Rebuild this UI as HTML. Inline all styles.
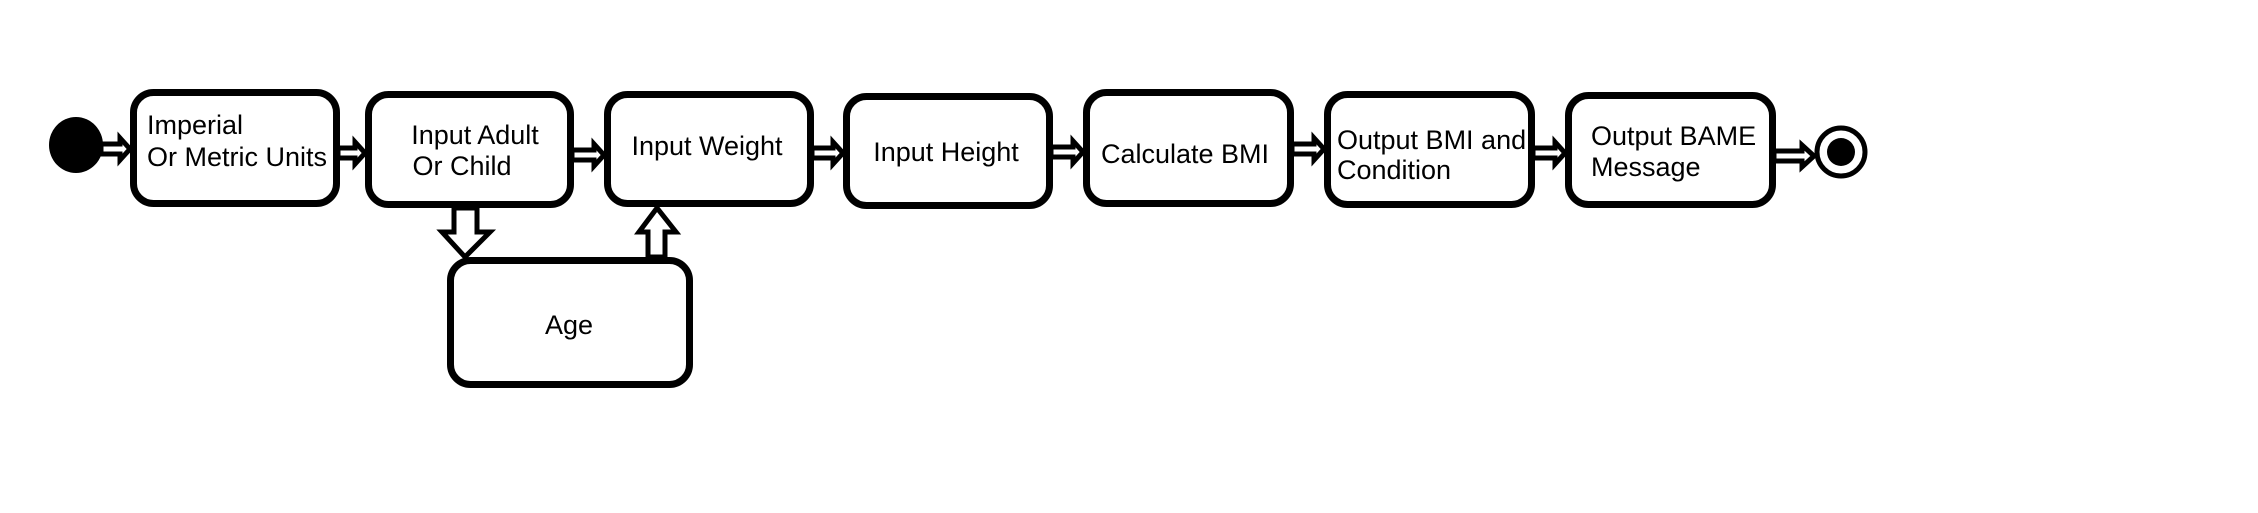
<!DOCTYPE html>
<html><head><style>
html,body{margin:0;padding:0;background:#fff;width:2258px;height:513px;overflow:hidden}
svg text{font-family:"Liberation Sans",sans-serif;font-size:27px;fill:#000}
</style></head><body>
<svg width="2258" height="513" viewBox="0 0 2258 513" xmlns="http://www.w3.org/2000/svg">
<g fill="#fff" stroke="#000" stroke-width="7">
<rect x="133.5" y="92.5" width="203" height="111" rx="20"/>
<rect x="368.5" y="94.5" width="202" height="110" rx="20"/>
<rect x="607.5" y="94.5" width="203" height="109" rx="20"/>
<rect x="846.5" y="96.5" width="203" height="109" rx="20"/>
<rect x="1086.5" y="92.5" width="204" height="111" rx="20"/>
<rect x="1327.5" y="94.5" width="204" height="110" rx="20"/>
<rect x="1568.5" y="95.5" width="204" height="109" rx="20"/>
<rect x="450.5" y="260.5" width="239" height="124" rx="20"/>
</g>
<ellipse cx="76" cy="145" rx="27" ry="28" fill="#000"/>
<circle cx="1841" cy="152" r="24" fill="#fff" stroke="#000" stroke-width="5"/>
<circle cx="1841" cy="152" r="14" fill="#000"/>
<g fill="#fff" stroke="#000" stroke-width="5" stroke-linejoin="miter">
<polygon points="101,144 120,144 120,138 130,149 120,160 120,154 101,154"/>
<polygon points="338,148 355,148 355,142 365,153 355,164 355,158 338,158"/>
<polygon points="572,150 594,150 594,144 604,155 594,166 594,160 572,160"/>
<polygon points="812,148 833,148 833,142 843,153 833,164 833,158 812,158"/>
<polygon points="1051,147 1073,147 1073,141 1083,152 1073,163 1073,157 1051,157"/>
<polygon points="1292,144 1314,144 1314,138 1324,149 1314,160 1314,154 1292,154"/>
<polygon points="1533,148 1555,148 1555,142 1565,153 1555,164 1555,158 1533,158"/>
<polygon points="1774,151 1802,151 1802,145 1814,156 1802,167 1802,161 1774,161"/>
<polygon points="454,208 477,208 477,232 490,232 465,257 442,232 454,232"/>
<polygon points="648,257 665,257 665,232 676,232 657,208 639,232 648,232"/>
</g>
<text x="147" y="134">Imperial</text>
<text x="147" y="166">Or Metric Units</text>
<text x="475" y="144" text-anchor="middle">Input Adult</text>
<text x="462" y="175" text-anchor="middle">Or Child</text>
<text x="707" y="155" text-anchor="middle">Input Weight</text>
<text x="946" y="161" text-anchor="middle">Input Height</text>
<text x="1185" y="163" text-anchor="middle">Calculate BMI</text>
<text x="1337" y="149">Output BMI and</text>
<text x="1337" y="179">Condition</text>
<text x="1591" y="145">Output BAME</text>
<text x="1591" y="176">Message</text>
<text x="569" y="334" text-anchor="middle">Age</text>
</svg>
</body></html>
